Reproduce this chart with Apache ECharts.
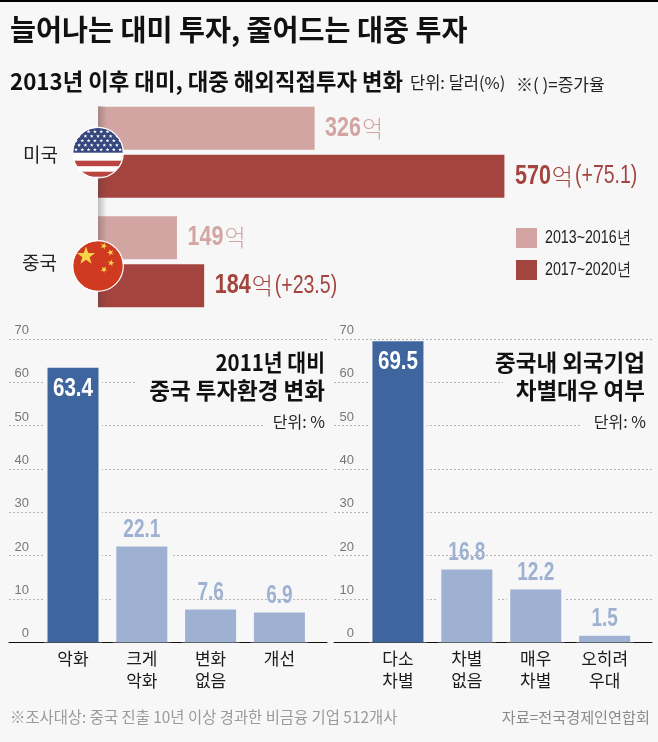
<!DOCTYPE html>
<html><head><meta charset="utf-8">
<script src="https://cdn.jsdelivr.net/npm/echarts@6/dist/echarts.min.js"></script>
<style>html,body{margin:0;padding:0;background:#f7f7f7}#c{width:658px;height:742px}</style>
</head><body><div id="c"></div>
<script>
const countries = ['미국', '중국'];
const period1Name = '2013~2016년';
const period2Name = '2017~2020년';
const period1 = [326, 149];
const period2 = [570, 184];
const growth = ['+75.1', '+23.5'];
const envCats = ['악화', '크게\n악화', '변화\n없음', '개선'];
const envVals = [63.4, 22.1, 7.6, 6.9];
const discCats = ['다소\n차별', '차별\n없음', '매우\n차별', '오히려\n우대'];
const discVals = [69.5, 16.8, 12.2, 1.5];

const KR = '"Noto Sans CJK KR","Noto Sans",sans-serif';
const NUM = '"Liberation Sans",sans-serif';
const BG = '#f7f7f7', L_RED = '#d3a5a2', D_RED = '#a3443f', D_BLUE = '#3f659f', L_BLUE = '#9fb1d2';

function star(cx, cy, R, rot) {
  const p = [];
  for (let i = 0; i < 10; i++) {
    const r = i % 2 ? R * 0.4 : R, a = (rot || 0) - Math.PI / 2 + i * Math.PI / 5;
    p.push((cx + r * Math.cos(a)).toFixed(2) + ',' + (cy + r * Math.sin(a)).toFixed(2));
  }
  return p.join(' ');
}
function usFlag() {
  let s = '';
  for (let r = 0; r < 5; r++) for (let c = 0; c < 8; c++) {
    const x = 5 + c * 6.3 + (r % 2 ? 3.1 : 0), y = 6 + r * 4.5;
    if (x < 53) s += `<polygon fill="#fff" points="${star(x, y, 2)}"/>`;
  }
  return `<svg xmlns="http://www.w3.org/2000/svg" width="54" height="54"><defs><clipPath id="a"><circle cx="27" cy="27" r="25"/></clipPath></defs><g clip-path="url(#a)"><rect width="54" height="54" fill="#fff"/><rect width="54" height="27" fill="#36477f"/>${s}<rect y="35" width="54" height="5.5" fill="#b8453f"/><rect y="46" width="54" height="5" fill="#b8453f"/></g><circle cx="27" cy="27" r="25.3" fill="none" stroke="#fff" stroke-width="1.2"/></svg>`;
}
function cnFlag() {
  return `<svg xmlns="http://www.w3.org/2000/svg" width="54" height="54"><circle cx="27" cy="27" r="25" fill="#cf3a20"/><circle cx="27" cy="27" r="25.3" fill="none" stroke="#fff" stroke-width="1.2"/><polygon fill="#f8d548" points="${star(15, 17, 9.5)}"/><polygon fill="#f8d548" points="${star(32.7, 7, 3.5, .4)}"/><polygon fill="#f8d548" points="${star(39.5, 13.5, 3.5, .9)}"/><polygon fill="#f8d548" points="${star(40, 24, 3.5, .2)}"/><polygon fill="#f8d548" points="${star(33, 30.5, 3.5, .6)}"/></svg>`;
}
const uri = s => 'data:image/svg+xml;charset=utf-8,' + encodeURIComponent(s);

function text(str, x, y, size, opt) {
  opt = opt || {};
  return { type: 'text', z: 20, x, y, silent: true, scaleX: opt.sx || 1,
    style: { text: str, fill: opt.fill || '#111', font: `${opt.w || 400} ${size}px ${opt.f || KR}`,
      textAlign: opt.a || 'left', textVerticalAlign: 'middle' } };
}
const mask = (x, y, w, h) => ({ type: 'rect', z: 10, silent: true, shape: { x, y, width: w, height: h }, style: { fill: BG } });

const ctx = document.createElement('canvas').getContext('2d');
const measure = (s, font) => { ctx.font = font; return ctx.measureText(s).width; };
const SX = 0.77;

// Value labels of the top chart: condensed number + unit + optional growth, anchored on the bar's end.
function topLabels(name, vals, color, yOff, withGrowth) {
  return {
    type: 'custom', name: name + ' 값', xAxisIndex: 0, yAxisIndex: 0, z: 5, silent: true,
    data: vals.map((v, i) => [v, i]), encode: { x: 0, y: 1 },
    renderItem: (params, api) => {
      const v = api.value(0), i = params.dataIndex;
      const pt = api.coord([v, i]);
      let x = pt[0] + 10.5; const y = pt[1] + yOff;
      const kids = [];
      const add = (s, font, sx, gap) => {
        kids.push({ type: 'text', x, y, scaleX: sx, style: { text: s, font, fill: color, textAlign: 'left', textVerticalAlign: 'middle' } });
        x += measure(s, font) * sx + gap;
      };
      add(String(v), `700 28px ${NUM}`, SX, 1);
      add('억', `300 23px ${KR}`, 1, 2);
      if (withGrowth) add('(' + growth[i] + ')', `400 25px ${NUM}`, 0.78, 0);
      return { type: 'group', children: kids };
    }
  };
}

// Background-coloured strip behind each lower bar, which interrupts the gridlines, and the value text.
function barBacking(vals, g) {
  return {
    type: 'custom', xAxisIndex: g, yAxisIndex: g, z: 2, silent: true,
    data: vals.map((v, i) => [i, v]), encode: { x: 0, y: 1 },
    renderItem: (params, api) => {
      const a = api.coord([api.value(0), api.value(1)]), b = api.coord([api.value(0), 0]);
      return { type: 'rect', shape: { x: a[0] - 29, y: a[1], width: 58, height: b[1] - a[1] }, style: { fill: BG } };
    }
  };
}
function barValues(vals, g) {
  return {
    type: 'custom', xAxisIndex: g, yAxisIndex: g, z: 5, silent: true,
    data: vals.map((v, i) => [i, v]), encode: { x: 0, y: 1 },
    renderItem: (params, api) => {
      const v = api.value(1), pt = api.coord([api.value(0), v]), first = params.dataIndex === 0;
      return { type: 'text', x: pt[0], y: pt[1] + (first ? 21 : -16.5), scaleX: first ? 0.79 : 0.76,
        style: { text: v.toFixed(1), font: `700 ${first ? 26 : 25}px ${NUM}`, fill: first ? '#fff' : L_BLUE, textAlign: 'center', textVerticalAlign: 'middle' } };
    }
  };
}
const makeBars = (vals, g) => ({
  type: 'bar', xAxisIndex: g, yAxisIndex: g, barWidth: 51, z: 3,
  data: vals.map((v, i) => ({ value: v, itemStyle: { color: i === 0 ? D_BLUE : L_BLUE } }))
});

const plot = (left, width) => ({ left, width, top: 339.1, height: 303.2 });
const catAxis = (gridIndex, data) => ({ gridIndex, type: 'category', data, axisLine: { show: false }, axisTick: { show: false },
  axisLabel: { margin: 5, fontFamily: KR, fontSize: 17, lineHeight: 22, color: '#1a1a1a', interval: 0 } });
const frameX = gridIndex => ({ gridIndex, type: 'value', min: 0, max: 1, splitLine: { show: false }, axisTick: { show: false }, axisLabel: { show: false }, axisLine: { show: true, lineStyle: { color: '#111', width: 1 } } });

const option = {
  backgroundColor: BG,
  animation: false,
  legend: {
    orient: 'vertical', left: 511, top: 223, itemWidth: 21, itemHeight: 20, itemGap: 12,
    icon: 'rect', data: [period1Name, period2Name], selectedMode: false, formatter: () => ''
  },
  grid: [
    { left: 98, width: 406.4, top: 97.5, height: 219 },
    plot(9, 318), plot(38.6, 275.2), plot(334, 318), plot(363.5, 275.6)
  ],
  xAxis: [
    { gridIndex: 0, type: 'value', min: 47.5, max: 570, show: false },
    frameX(1), catAxis(2, envCats), frameX(3), catAxis(4, discCats)
  ],
  yAxis: [
    { gridIndex: 0, type: 'category', data: countries, inverse: true, show: false },
    ...[1, 3].flatMap(g => [
      { gridIndex: g, type: 'value', min: 0, max: 70, interval: 10,
        axisLine: { show: false }, axisTick: { show: false },
        splitLine: { show: true, lineStyle: { color: '#b5b5b5', type: [2, 2], width: 1 } },
        axisLabel: { inside: true, margin: 20, align: 'right', verticalAlign: 'bottom', padding: [0, 0, 2, 0], fontFamily: NUM, fontSize: 13, color: '#777' } },
      { gridIndex: g + 1, type: 'value', min: 0, max: 70, interval: 10, show: false, splitLine: { show: false } }
    ])
  ],
  series: [
    { name: period1Name, type: 'bar', xAxisIndex: 0, yAxisIndex: 0, barWidth: 43, barGap: '12%', data: period1, itemStyle: { color: L_RED } },
    { name: period2Name, type: 'bar', xAxisIndex: 0, yAxisIndex: 0, barWidth: 43, barGap: '12%', data: period2, itemStyle: { color: D_RED } },
    topLabels(period1Name, period1, L_RED, -24, false),
    topLabels(period2Name, period2, D_RED, 24, true),
    barBacking(envVals, 2), makeBars(envVals, 2), barValues(envVals, 2),
    barBacking(discVals, 4), makeBars(discVals, 4), barValues(discVals, 4)
  ],
  graphic: [
    { type: 'rect', z: 20, silent: true, shape: { x: 0, y: 0, width: 658, height: 2 }, style: { fill: '#000' } },
    text('늘어나는 대미 투자, 줄어드는 대중 투자', 10, 30, 29, { w: 700, sx: 0.975 }),
    text('2013년 이후 대미, 대중 해외직접투자 변화', 10, 81, 23, { w: 700, sx: 0.97 }),
    text('단위: 달러(%)', 410, 83, 16.5, { fill: '#222' }),
    text('※( )=증가율', 516, 85, 17, { fill: '#222' }),
    text('미국', 23, 155, 19, { fill: '#222' }),
    text('중국', 22, 263, 19, { fill: '#222' }),
    text(period1Name, 545, 238, 18, { f: NUM, sx: 0.79, fill: '#222' }),
    text(period2Name, 545, 270, 18, { f: NUM, sx: 0.79, fill: '#222' }),
    { type: 'rect', z: 8, silent: true, shape: { x: 98, y: 106, width: 9, height: 201 },
      style: { fill: { type: 'linear', x: 0, y: 0, x2: 1, y2: 0, colorStops: [{ offset: 0, color: 'rgba(60,60,60,.3)' }, { offset: 1, color: 'rgba(60,60,60,0)' }] } } },
    { type: 'image', z: 21, silent: true, style: { image: uri(usFlag()), x: 71, y: 125.7, width: 54, height: 54 } },
    { type: 'image', z: 21, silent: true, style: { image: uri(cnFlag()), x: 71, y: 239, width: 54, height: 54 } },
    mask(135, 344, 192, 54), mask(263, 412, 64, 22),
    mask(503, 344, 149, 54), mask(582, 412, 70, 22),
    text('2011년 대비', 325, 362, 22.5, { w: 700, a: 'right', sx: 0.91 }),
    text('중국 투자환경 변화', 325, 390, 22.5, { w: 700, a: 'right' }),
    text('단위: %', 325, 422, 16, { a: 'right', fill: '#222' }),
    text('중국내 외국기업', 645, 362, 22.5, { w: 700, a: 'right' }),
    text('차별대우 여부', 645, 390, 22.5, { w: 700, a: 'right' }),
    text('단위: %', 646, 422, 16, { a: 'right', fill: '#222' }),
    text('※조사대상: 중국 진출 10년 이상 경과한 비금융 기업 512개사', 10, 717, 15.4, { fill: '#9a9a9a' }),
    text('자료=전국경제인연합회', 650, 717, 15.2, { a: 'right', fill: '#8a8a8a' })
  ]
};
echarts.init(document.getElementById('c')).setOption(option);
</script></body></html>
